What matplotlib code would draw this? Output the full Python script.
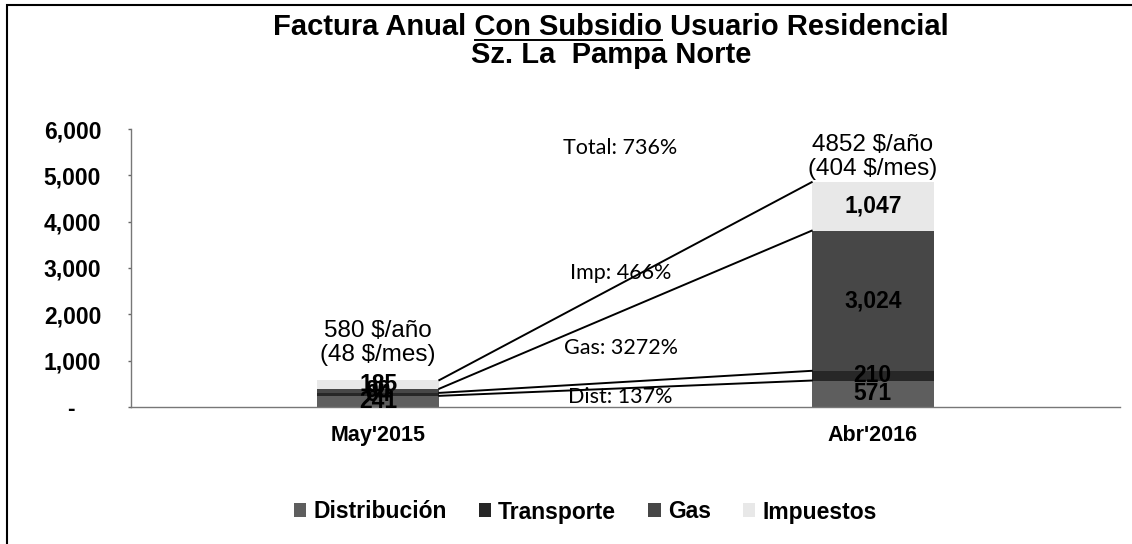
import matplotlib
matplotlib.use('Agg')
import matplotlib.pyplot as plt
from matplotlib.patches import Rectangle, Patch
from matplotlib.lines import Line2D
import numpy as np

# ---------------- data ----------------
categories = ["May'2015", "Abr'2016"]
series_names = ["Distribución", "Transporte", "Gas", "Impuestos"]
distribucion = [241, 571]
transporte = [64, 210]
gas = [90, 3024]
impuestos = [185, 1047]
totales_anual = [580, 4852]
totales_mes = [48, 404]
growth_labels = ["Dist: 137%", "Gas: 3272%", "Imp: 466%", "Total: 736%"]
growth_label_y = [215, 1270, 2890, 5600]
y_ticks = [0, 1000, 2000, 3000, 4000, 5000, 6000]
title_pre = "Factura Anual "
title_under = "Con Subsidio"
title_post = " Usuario Residencial"
title_line2 = "Sz. La  Pampa Norte"

colors = ['#5e5e5e', '#272727', '#474747', '#e8e8e8']
ARIAL = ['Liberation Sans', 'DejaVu Sans']
CALIBRI = ['Lato', 'DejaVu Sans']

W, H = 1132, 544
fig = plt.figure(figsize=(W / 100, H / 100), dpi=100)
fig.patch.set_facecolor('white')

ax = fig.add_axes([131 / W, 1 - 407 / H, (1120 - 131) / W, (407 - 129) / H])
ax.set_facecolor('white')

x = np.arange(len(categories))
bw = 0.247
series = [distribucion, transporte, gas, impuestos]
bottom = np.zeros(len(categories))
levels = []
for vals, c, name in zip(series, colors, series_names):
    vals = np.array(vals, dtype=float)
    ax.bar(x, vals, bw, bottom=bottom, color=c, edgecolor='none', label=name, zorder=2)
    for xi, b, v in zip(x, bottom, vals):
        ax.text(xi, b + v / 2, f"{int(v):,}", ha='center', va='center',
                fontsize=16.5, fontweight='bold', family=ARIAL, color='black', zorder=4)
    bottom = bottom + vals
    levels.append(bottom.copy())

# connecting lines between the tops of each cumulative level
for lv in levels:
    ax.plot([x[0] + bw / 2, x[1] - bw / 2], [lv[0], lv[1]], color='black', lw=1.4, zorder=3)

# total labels
offsets = [14, 2]
for xi, ta, tm, off in zip(x, totales_anual, totales_mes, offsets):
    ax.annotate(f"{ta} $/año\n({tm} $/mes)", xy=(xi, ta), xytext=(0, off),
                textcoords='offset pixels', ha='center', va='bottom',
                fontsize=17.5, family=ARIAL, color='black', linespacing=1.1)

# growth labels
for lab, yv in zip(growth_labels, growth_label_y):
    ax.text(0.49, yv, lab, ha='center', va='center', fontsize=15.5,
            family=CALIBRI, color='black', zorder=5)

ax.set_xlim(-0.5, 1.5)
ax.set_ylim(0, 6000)
ax.set_yticks(y_ticks)
ax.set_yticklabels(['-    ' if t == 0 else f"{t:,}" for t in y_ticks],
                   fontsize=16.5, fontweight='bold', family=ARIAL)
ax.set_xticks(x)
ax.set_xticklabels(categories, fontsize=15.5, fontweight='bold', family=ARIAL)
ax.tick_params(axis='y', direction='out', length=2.5, width=1, color='#666666', pad=19)
ax.tick_params(axis='x', length=0, pad=13)
for s in ['top', 'right']:
    ax.spines[s].set_visible(False)
for s in ['left', 'bottom']:
    ax.spines[s].set_color('#777777')
    ax.spines[s].set_linewidth(1.0)

# legend
handles = [Patch(facecolor=c, edgecolor='none', label=n) for c, n in zip(colors, series_names)]
fig.legend(handles=handles, loc='center', bbox_to_anchor=(0.517, 1 - 512 / H), ncol=4,
           frameon=False, prop={'family': ARIAL, 'weight': 'bold', 'size': 16.5},
           handlelength=0.55, handleheight=0.55, handletextpad=0.3, columnspacing=1.4)

# outer chart border (only top/left fall within the scan)
fig.patches.append(Rectangle((7 / W, -0.05), 1.2, 1.05 - 5 / H, transform=fig.transFigure,
                             fill=False, ec='black', lw=1.5))

# title with underlined part
tfs = 21
y1 = 1 - 27 / H
y2 = 1 - 55 / H
full = title_pre + title_under + title_post
t_full = fig.text(0.54, y1, full, ha='center', va='center', fontsize=tfs,
                  fontweight='bold', family=ARIAL)
fig.text(0.54, y2, title_line2, ha='center', va='center', fontsize=tfs,
         fontweight='bold', family=ARIAL)
fig.canvas.draw()
r = fig.canvas.get_renderer()
bb = t_full.get_window_extent(r)
tmp1 = fig.text(0, 0, title_pre, fontsize=tfs, fontweight='bold', family=ARIAL)
tmp2 = fig.text(0, 0, title_pre + title_under, fontsize=tfs, fontweight='bold', family=ARIAL)
w1 = tmp1.get_window_extent(r).width
w2 = tmp2.get_window_extent(r).width
tmp1.remove(); tmp2.remove()
ux0 = (bb.x0 + w1) / W
ux1 = (bb.x0 + w2) / W
uy = (bb.y0 + 1) / H
fig.add_artist(Line2D([ux0, ux1], [uy, uy], transform=fig.transFigure, color='black', lw=1.4))

fig.savefig('out.png', dpi=100, facecolor='white')
